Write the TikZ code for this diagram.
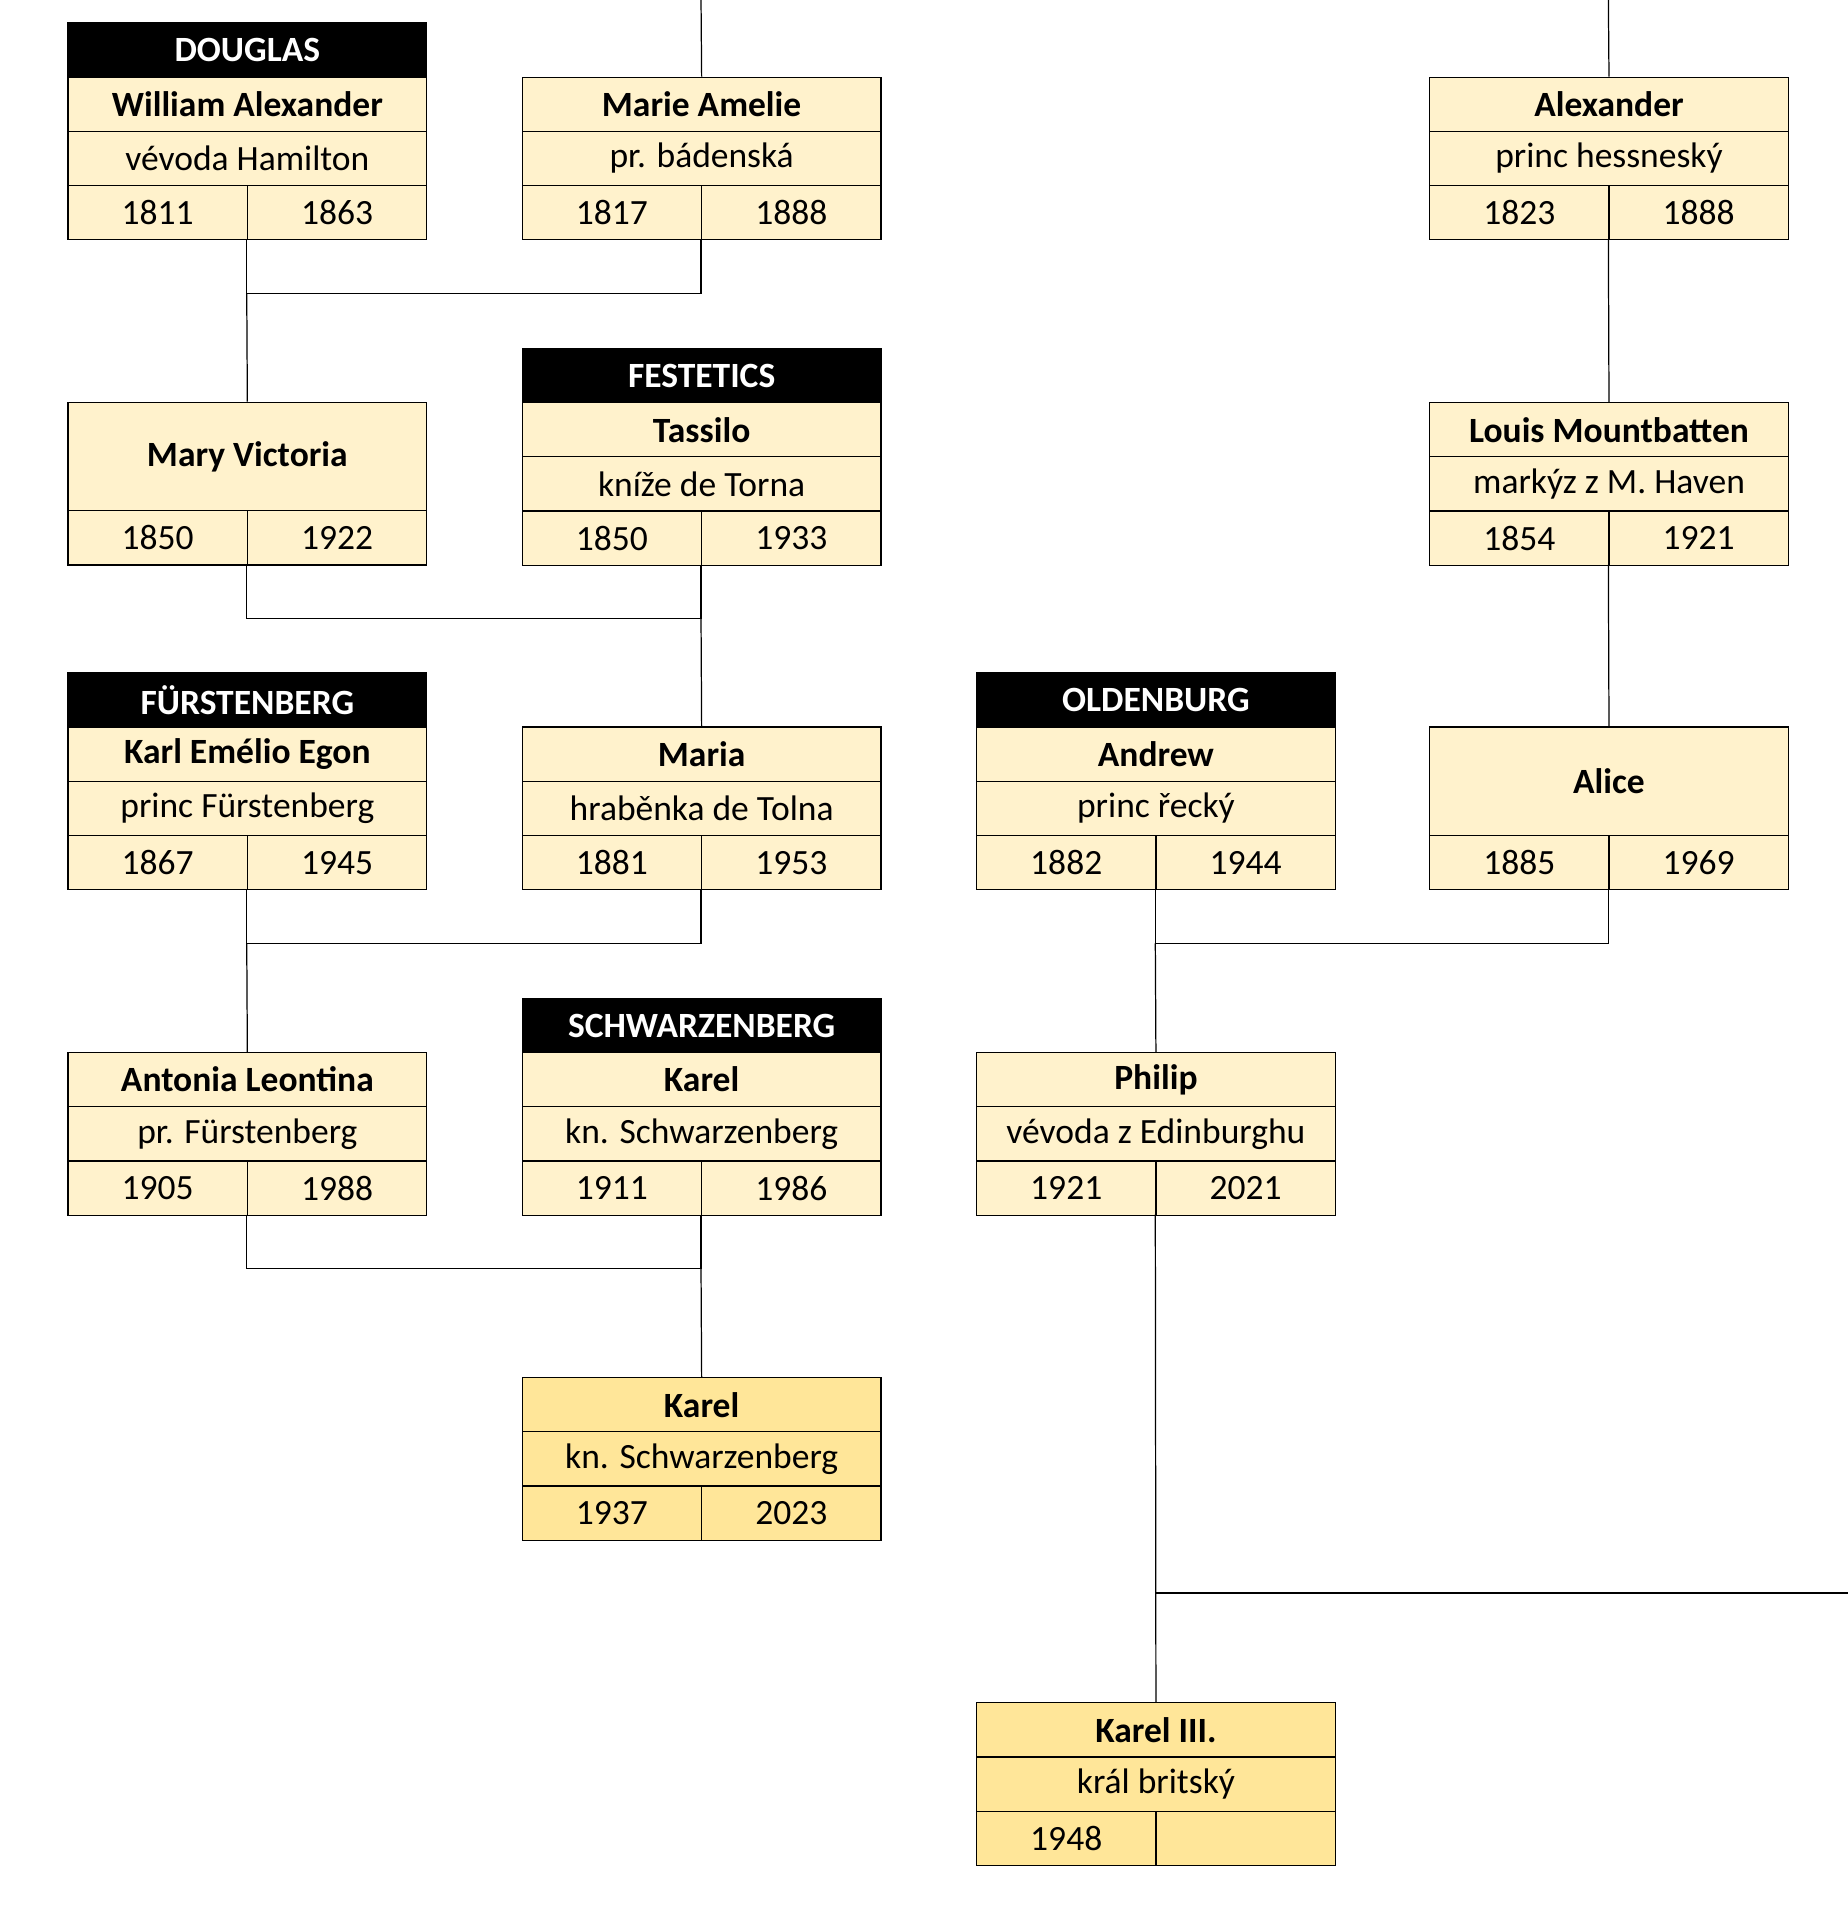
\documentclass[tikz,border=0pt]{standalone}
\usepackage{fontspec}
\setmainfont{Carlito}
\definecolor{lt}{HTML}{FFF2CC}
\definecolor{dk}{HTML}{FFE699}
\begin{document}
\begin{tikzpicture}[x=1pt,y=-1pt,
 cell/.style={draw=black,line width=1pt,fill=lt,anchor=north west,inner sep=0pt,minimum width=293pt,minimum height=44.3pt,font=\fontsize{29}{32}\selectfont},
 half/.style={cell,minimum width=146.5pt},
 hdr/.style={cell,fill=black,text=white,font=\fontsize{29}{32}\selectfont\bfseries},
 nm/.style={cell,font=\fontsize{29}{32}\selectfont\bfseries},
 ln/.style={line width=1pt}]
\useasboundingbox (0,0) rectangle (1509,1568);
\newcommand\pbox[8]{%
 \node[nm,fill=#8] (#1-n) at (#2,#3) {#4};
 \node[cell,fill=#8] (#1-t) at (#2,#3+44.3) {#5};
 \node[half,fill=#8] (#1-a) at (#2,#3+88.6) {#6};
 \node[half,fill=#8] (#1-b) at (#2+146.5,#3+88.6) {#7};
 \coordinate (#1-s) at (#2+146.5,#3+132.9);}
% Gen1
\node[hdr] (douglas) at (55,18) {DOUGLAS};
\pbox{wa}{55}{62.5}{William Alexander}{vévoda Hamilton}{1811}{1863}{lt}
\pbox{ma}{426}{62.5}{Marie Amelie}{pr. bádenská}{1817}{1888}{lt}
\pbox{al}{1167}{62.5}{Alexander}{princ hessneský}{1823}{1888}{lt}
\coordinate (matop) at (572.5,0);
\coordinate (altop) at (1313.5,0);
% Gen2
\node[nm,minimum height=88.6pt] (mv-n) at (55,328) {Mary Victoria};
\node[half] (mv-a) at (55,416.6) {1850};
\node[half] (mv-b) at (201.5,416.6) {1922};
\coordinate (mv-s) at (201.5,460.9);
\node[hdr] (festetics) at (426,284) {FESTETICS};
\pbox{ta}{426}{328.3}{Tassilo}{kníže de Torna}{1850}{1933}{lt}
\pbox{lm}{1167}{328.3}{Louis Mountbatten}{markýz z M. Haven}{1854}{1921}{lt}
% Gen3
\node[hdr] (fuerst) at (55,549) {FÜRSTENBERG};
\pbox{ke}{55}{593.3}{Karl Emélio Egon}{princ Fürstenberg}{1867}{1945}{lt}
\pbox{mr}{426}{593.3}{Maria}{hraběnka de Tolna}{1881}{1953}{lt}
\node[hdr] (oldenburg) at (797,549) {OLDENBURG};
\pbox{an}{797}{593.3}{Andrew}{princ řecký}{1882}{1944}{lt}
\node[nm,minimum height=88.6pt] (alice-n) at (1167,593.3) {Alice};
\node[half] (alice-a) at (1167,681.9) {1885};
\node[half] (alice-b) at (1313.5,681.9) {1969};
\coordinate (alice-s) at (1313.5,726.2);
% Gen4
\pbox{at}{55}{859}{Antonia Leontina}{pr. Fürstenberg}{1905}{1988}{lt}
\node[hdr] (schw) at (426,815) {SCHWARZENBERG};
\pbox{ka}{426}{859}{Karel}{kn. Schwarzenberg}{1911}{1986}{lt}
\pbox{ph}{797}{859}{Philip}{vévoda z Edinburghu}{1921}{2021}{lt}
% Gen5
\pbox{k2}{426}{1124.5}{Karel}{kn. Schwarzenberg}{1937}{2023}{dk}
\pbox{k3}{797}{1390}{Karel III.}{král britský}{1948}{}{dk}
\coordinate (edge) at (1509,1301);
% connectors
\draw[ln] (matop) -- (ma-n.north);
\draw[ln] (altop) -- (al-n.north);
\draw[ln] (wa-s) |- (572.5,240) -- (ma-s);
\draw[ln] (201.5,240) -- (mv-n.north);
\draw[ln] (al-s) -- (lm-n.north);
\draw[ln] (mv-s) |- (572.5,505) -- (ta-s);
\draw[ln] (572.5,505) -- (mr-n.north);
\draw[ln] (lm-s) -- (alice-n.north);
\draw[ln] (ke-s) |- (572.5,770.5) -- (mr-s);
\draw[ln] (201.5,770.5) -- (at-n.north);
\draw[ln] (an-s) |- (1313.5,770.5) -- (alice-s);
\draw[ln] (943.5,770.5) -- (ph-n.north);
\draw[ln] (at-s) |- (572.5,1036) -- (ka-s);
\draw[ln] (572.5,1036) -- (k2-n.north);
\draw[ln] (ph-s) -- (k3-n.north);
\draw[ln] (943.5,1301) -- (edge);
\end{tikzpicture}
\end{document}
